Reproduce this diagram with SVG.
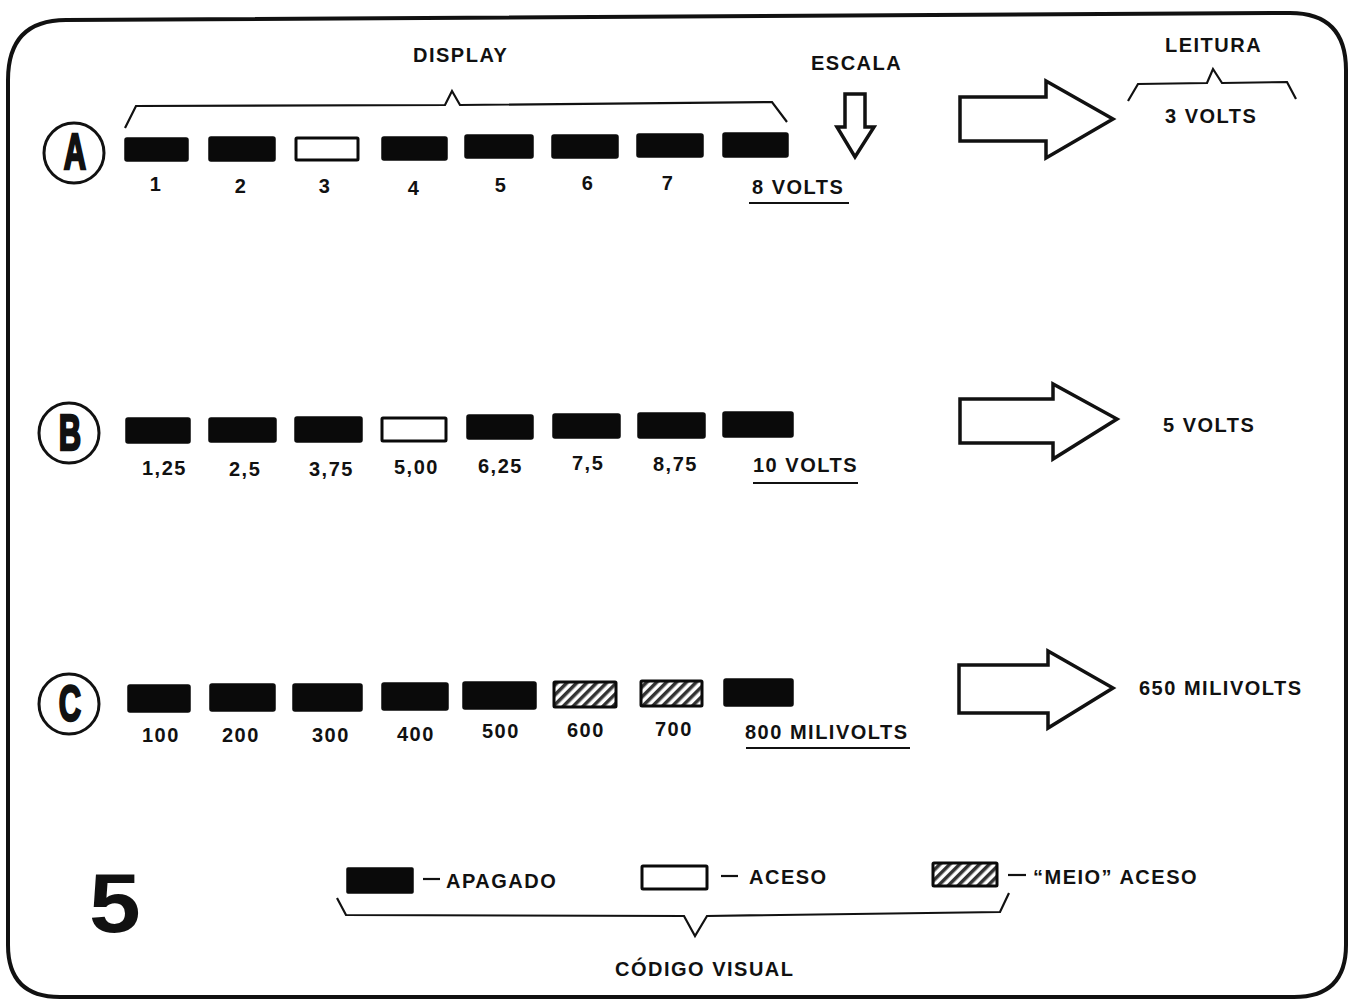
<svg xmlns="http://www.w3.org/2000/svg" width="1351" height="1001" viewBox="0 0 1351 1001">
<defs>
<pattern id="hatch" patternUnits="userSpaceOnUse" width="7" height="7" patternTransform="rotate(45)">
<rect width="7" height="7" fill="#fff"/>
<rect width="3.5" height="7" fill="#333"/>
</pattern>
<style>
.t{font-family:"Liberation Sans",Arial,sans-serif;font-weight:bold;font-size:20px;fill:#111;letter-spacing:1.5px}
.off{fill:#0a0a0a;stroke:#0a0a0a;stroke-width:1.5}
.on{fill:#fff;stroke:#0a0a0a;stroke-width:3}
.half{fill:url(#hatch);stroke:#0a0a0a;stroke-width:3}
.ln{fill:none;stroke:#111;stroke-width:2.2;stroke-linejoin:miter}
.arr{fill:#fff;stroke:#111;stroke-width:3.5;stroke-linejoin:miter}
.circ{fill:#fff;stroke:#111;stroke-width:3}
.big{font-family:"Liberation Sans",Arial,sans-serif;font-weight:bold;font-size:50px;fill:#111;stroke:#111;stroke-width:2.5}
</style>
</defs>
<rect width="1351" height="1001" fill="#fff"/>
<path d="M66,20 L1290,13 Q1346,13 1346,70 L1346,945 Q1346,997 1294,997 L60,997 Q8,997 8,945 L8,80 Q8,20 66,20 Z" fill="none" stroke="#111" stroke-width="4"/>

<g id="header">
<text class="t" x="413" y="62">DISPLAY</text>
<path class="ln" d="M125,128 L136,106 L445,105 L452,91 L460,105 L772,102 L787,122"/>
<text class="t" x="811" y="70">ESCALA</text>
<path class="arr" d="M845,94 L865,94 L865,127 L874,127 L855,157 L837,127 L845,127 Z"/>
<text class="t" x="1165" y="52">LEITURA</text>
<path class="ln" d="M1128,101 L1138,84 L1207,83 L1213,69 L1222,83 L1287,82 L1296,99"/>
</g>

<g id="rowA">
<circle class="circ" cx="74" cy="153" r="30"/>
<text class="big" transform="translate(75,169) scale(0.62,1)" text-anchor="middle">A</text>
<rect class="off" x="125" y="138" width="63" height="23" rx="2"/>
<rect class="off" x="209" y="137" width="66" height="24" rx="2"/>
<rect class="on" x="296" y="138" width="62" height="22" rx="1"/>
<rect class="off" x="382" y="137" width="65" height="23" rx="2"/>
<rect class="off" x="465" y="135" width="68" height="23" rx="2"/>
<rect class="off" x="552" y="135" width="66" height="23" rx="2"/>
<rect class="off" x="637" y="134" width="66" height="23" rx="2"/>
<rect class="off" x="723" y="133" width="65" height="24" rx="2"/>
<text class="t" x="156" y="191" text-anchor="middle">1</text>
<text class="t" x="241" y="193" text-anchor="middle">2</text>
<text class="t" x="325" y="193" text-anchor="middle">3</text>
<text class="t" x="414" y="195" text-anchor="middle">4</text>
<text class="t" x="501" y="192" text-anchor="middle">5</text>
<text class="t" x="588" y="190" text-anchor="middle">6</text>
<text class="t" x="668" y="190" text-anchor="middle">7</text>
<text class="t" x="752" y="194">8 VOLTS</text>
<line class="ln" x1="749" y1="203" x2="849" y2="203" stroke-width="2"/>
<path class="arr" d="M960,97 L1046,97 L1046,81 L1113,119 L1046,158 L1046,141 L960,141 Z"/>
<text class="t" x="1165" y="123">3 VOLTS</text>
</g>

<g id="rowB">
<circle class="circ" cx="69" cy="433" r="30"/>
<text class="big" transform="translate(70,450) scale(0.62,1)" text-anchor="middle">B</text>
<rect class="off" x="126" y="418" width="64" height="25" rx="2"/>
<rect class="off" x="209" y="418" width="67" height="24" rx="2"/>
<rect class="off" x="295" y="417" width="67" height="25" rx="2"/>
<rect class="on" x="382" y="418" width="64" height="23" rx="1"/>
<rect class="off" x="467" y="415" width="66" height="24" rx="2"/>
<rect class="off" x="553" y="414" width="67" height="24" rx="2"/>
<rect class="off" x="638" y="413" width="67" height="25" rx="2"/>
<rect class="off" x="723" y="412" width="70" height="25" rx="2"/>
<text class="t" x="142" y="475">1,25</text>
<text class="t" x="229" y="476">2,5</text>
<text class="t" x="309" y="476">3,75</text>
<text class="t" x="394" y="474">5,00</text>
<text class="t" x="478" y="473">6,25</text>
<text class="t" x="572" y="470">7,5</text>
<text class="t" x="653" y="471">8,75</text>
<text class="t" x="753" y="472">10 VOLTS</text>
<line class="ln" x1="753" y1="483" x2="858" y2="483" stroke-width="2"/>
<path class="arr" d="M960,399 L1053,399 L1053,384 L1117,419 L1053,459 L1053,443 L960,443 Z"/>
<text class="t" x="1163" y="432">5 VOLTS</text>
</g>

<g id="rowC">
<circle class="circ" cx="69" cy="704" r="30"/>
<text class="big" transform="translate(70,721) scale(0.62,1)" text-anchor="middle">C</text>
<rect class="off" x="128" y="685" width="62" height="27" rx="2"/>
<rect class="off" x="210" y="684" width="65" height="27" rx="2"/>
<rect class="off" x="293" y="684" width="69" height="27" rx="2"/>
<rect class="off" x="382" y="683" width="66" height="27" rx="2"/>
<rect class="off" x="463" y="682" width="73" height="27" rx="2"/>
<rect class="half" x="554" y="682" width="62" height="25" rx="1"/>
<rect class="half" x="641" y="681" width="61" height="25" rx="1"/>
<rect class="off" x="724" y="679" width="69" height="27" rx="2"/>
<text class="t" x="142" y="742">100</text>
<text class="t" x="222" y="742">200</text>
<text class="t" x="312" y="742">300</text>
<text class="t" x="397" y="741">400</text>
<text class="t" x="482" y="738">500</text>
<text class="t" x="567" y="737">600</text>
<text class="t" x="655" y="736">700</text>
<text class="t" x="745" y="739">800 MILIVOLTS</text>
<line class="ln" x1="746" y1="748" x2="910" y2="748" stroke-width="2"/>
<path class="arr" d="M959,665 L1048,665 L1048,651 L1113,688 L1048,728 L1048,713 L959,713 Z"/>
<text class="t" x="1139" y="695">650 MILIVOLTS</text>
</g>

<g id="legend">
<text transform="translate(89,932) scale(1.12,1)" font-family="'Liberation Sans',Arial,sans-serif" font-weight="bold" font-size="83" fill="#111">5</text>
<rect class="off" x="347" y="868" width="66" height="25" rx="1"/>
<line class="ln" x1="423" y1="879" x2="440" y2="879"/>
<text class="t" x="446" y="888" letter-spacing="1">APAGADO</text>
<rect class="on" x="642" y="866" width="65" height="23" rx="1"/>
<line class="ln" x1="721" y1="876" x2="738" y2="876"/>
<text class="t" x="749" y="884" letter-spacing="1">ACESO</text>
<rect class="half" x="933" y="863" width="64" height="23" rx="1"/>
<line class="ln" x1="1008" y1="875" x2="1026" y2="875"/>
<text class="t" x="1033" y="884" letter-spacing="1">“MEIO” ACESO</text>
<path class="ln" d="M337,898 L346,915 L684,916 L695,936 L707,916 L1000,912 L1009,893"/>
<text class="t" x="615" y="976" letter-spacing="1">CÓDIGO VISUAL</text>
</g>
</svg>
